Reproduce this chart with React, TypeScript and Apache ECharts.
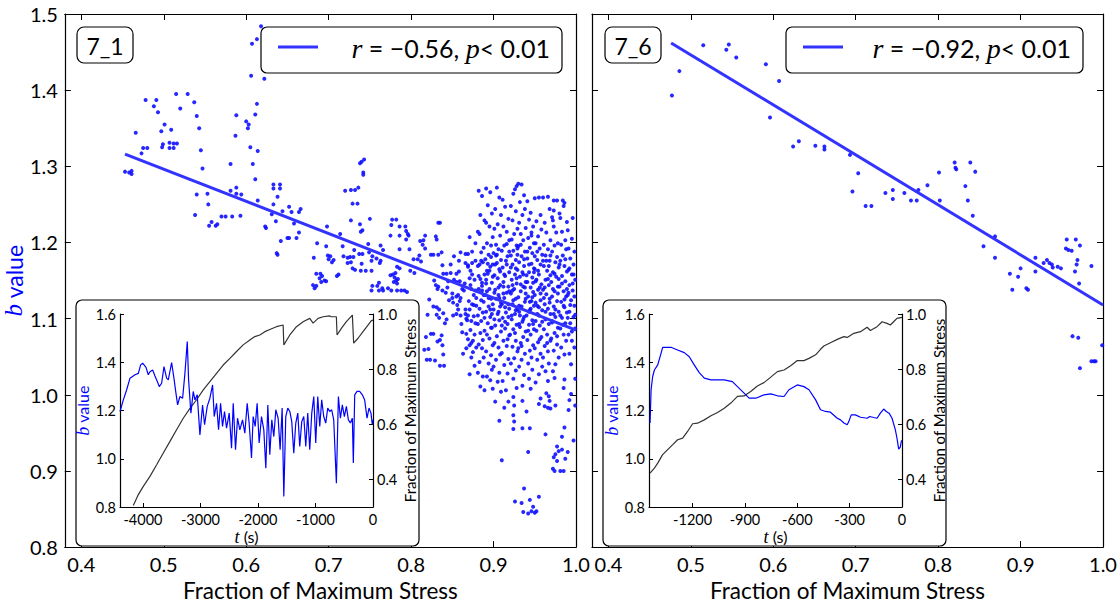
import React, { useEffect, useRef } from 'react';
import * as echarts from 'echarts';

const FONT = 'Lato, "DejaVu Sans", sans-serif';
const SERIF = '"Liberation Serif", "DejaVu Serif", serif';
const BLUE = '#0000ff';

const mainXTicks = [0.4, 0.5, 0.6, 0.7, 0.8, 0.9, 1.0];
const mainYTicks = [0.8, 0.9, 1.0, 1.1, 1.2, 1.3, 1.4, 1.5];
const insetBTicks = [0.8, 1.0, 1.2, 1.4, 1.6];
const insetStressTicks = [0.4, 0.6, 0.8, 1.0];
const inset1TTicks = [-4000, -3000, -2000, -1000, 0];
const inset6TTicks = [-1200, -900, -600, -300, 0];

const panelLabels = ['7_1', '7_6'];
const legendTexts = ['{i|r} = \u22120.56, {i|p}< 0.01', '{i|r} = \u22120.92, {i|p}< 0.01'];

// ---- 7_1 main scatter: sparse part ----
const scatter1Sparse = [
  [.618,1.484],[.613,1.467],[.607,1.461],[.606,1.419],[.622,1.415],
  [.478,1.387],[.491,1.387],[.488,1.379],[.493,1.371],[.515,1.395],[.529,1.395],[.520,1.376],[.537,1.384],[.540,1.366],[.543,1.350],
  [.466,1.344],[.501,1.355],[.497,1.346],[.509,1.348],[.499,1.329],[.498,1.325],[.507,1.331],[.507,1.324],[.512,1.330],[.516,1.330],[.512,1.324],
  [.475,1.324],[.480,1.324],[.473,1.317],[.453,1.293],[.458,1.292],[.461,1.294],[.461,1.290],
  [.545,1.321],[.547,1.297],[.540,1.263],[.553,1.264],[.554,1.250],[.538,1.236],[.558,1.227],[.555,1.222],[.563,1.222],[.565,1.224],
  [.570,1.234],[.575,1.234],[.583,1.234],[.593,1.235],[.581,1.268],[.588,1.272],[.588,1.264],[.594,1.263],[.581,1.303],[.587,1.340],[.588,1.367],
  [.600,1.359],[.603,1.355],[.602,1.350],[.611,1.368],[.613,1.382],[.605,1.325],[.614,1.320],[.608,1.303],[.611,1.283],[.614,1.255],[.623,1.221],[.624,1.219],
  [.633,1.276],[.633,1.271],[.641,1.276],[.641,1.271],[.638,1.260],[.633,1.250],[.644,1.241],[.652,1.247],[.655,1.240],[.636,1.228],[.631,1.237],
  [.642,1.202],[.637,1.186],[.638,1.184],[.650,1.206],[.652,1.206],[.661,1.206],[.664,1.213],[.658,1.225],[.664,1.240],[.666,1.244],
  [.740,1.306],[.743,1.309],[.738,1.304],[.742,1.292],[.742,1.289],
  [.720,1.268],[.727,1.269],[.732,1.269],[.736,1.272],[.729,1.251],[.735,1.251],
  [.727,1.229],[.738,1.224],[.741,1.216],[.739,1.214],[.750,1.231],
  [.698,1.221],[.714,1.211],[.686,1.199],[.697,1.195],[.682,1.180],
  [.699,1.183],[.702,1.182],[.700,1.178],[.704,1.174],[.706,1.177],
  [.717,1.195],[.718,1.182],[.723,1.180],[.726,1.181],[.730,1.181],[.723,1.173],[.727,1.174],
  [.731,1.190],[.737,1.185],[.741,1.185],[.748,1.198],[.712,1.158],[.710,1.156],[.729,1.166],[.732,1.164],[.739,1.163],[.745,1.163],[.740,1.172],[.752,1.163],
  [.763,1.196],[.766,1.190],[.753,1.182],[.752,1.176],[.758,1.179],[.763,1.176],[.762,1.173],[.749,1.187],
  [.685,1.159],[.690,1.159],[.692,1.156],[.689,1.153],[.691,1.148],[.681,1.144],[.685,1.143],[.683,1.140],[.695,1.150],[.697,1.149],
  [.777,1.230],[.782,1.230],[.776,1.223],[.786,1.221],[.775,1.209],[.786,1.209],[.794,1.215],[.796,1.211],[.797,1.209],[.793,1.221],[.794,1.204],[.798,1.191],[.786,1.191],
  [.811,1.202],[.815,1.203],[.817,1.209],[.814,1.197],[.817,1.192],[.824,1.184],[.827,1.184],[.810,1.183],[.808,1.178],[.812,1.175],[.803,1.178],[.799,1.163],[.804,1.160],
  [.783,1.168],[.786,1.166],[.781,1.160],[.778,1.158],[.775,1.157],[.780,1.154],[.782,1.150],[.784,1.152],[.779,1.148],[.783,1.146],
  [.830,1.208],[.831,1.204],[.833,1.226],[.835,1.226],[.837,1.187],[.833,1.184],[.838,1.170],[.839,1.159],[.843,1.159],[.848,1.160],[.855,1.159],[.858,1.162],
  [.866,1.185],[.869,1.185],[.866,1.173],[.869,1.170],[.874,1.173],[.852,1.151],[.855,1.148],
  [.828,1.150],[.830,1.144],[.833,1.142],[.832,1.139],
  [.838,1.137],[.842,1.134],[.844,1.141],[.850,1.133],[.850,1.127],[.846,1.124],[.851,1.121],[.855,1.129],[.860,1.127],[.859,1.123],
  [.822,1.125],[.827,1.116],[.831,1.115],[.834,1.112],[.820,1.105],[.831,1.105],[.834,1.101],[.839,1.107],[.843,1.099],[.841,1.094],
  [.824,1.080],[.827,1.080],[.832,1.070],[.835,1.072],[.837,1.078],[.838,1.065],[.818,1.076],[.821,1.060],[.816,1.059],
  [.819,1.046],[.823,1.046],[.829,1.045],[.835,1.038],[.840,1.038],[.839,1.053],
  [.855,1.106],[.860,1.104],[.866,1.106],[.867,1.100],[.869,1.104],
  [.867,1.080],[.869,1.073],[.871,1.065],[.873,1.068],
  [.761,1.147],[.759,1.143],[.765,1.140],[.766,1.137],[.761,1.137],[.753,1.143],[.752,1.137],
  [.772,1.140],[.776,1.137],[.783,1.137],[.788,1.137],[.792,1.137],[.795,1.135],
  [.852,1.182],[.848,1.171],[.845,1.149],[.862,1.139],[.857,1.112],[.851,1.104]
];

// ---- 7_1 main scatter: cluster near failure, read strip by strip ----
const scatter1ClusterA = [
  [.856,1.118],[.861,1.093],[.858,1.176],[.864,1.137],[.867,1.061],[.859,1.149],[.866,1.112],[.862,1.082],[.869,1.168],[.857,1.131],[.868,1.098],[.863,1.054],[.860,1.187],[.865,1.146],[.870,1.123],
  [.871,1.207],[.874,1.188],[.872,1.163],[.877,1.151],[.873,1.139],[.879,1.127],[.871,1.112],[.876,1.103],[.878,1.094],[.872,1.085],[.875,1.071],[.879,1.062],[.873,1.049],[.877,1.038],[.871,1.027],
  [.878,1.176],[.874,1.158],[.876,1.131],[.879,1.117],[.873,1.097],[.877,1.079],[.875,1.056],[.872,1.144],[.878,1.199],[.874,1.119],
  [.882,1.268],[.886,1.261],[.884,1.236],[.889,1.229],[.881,1.214],[.883,1.211],[.888,1.193],[.885,1.176],[.887,1.174],[.881,1.169],[.889,1.158],[.884,1.152],[.882,1.139],[.886,1.137],[.888,1.131],
  [.883,1.113],[.887,1.108],[.881,1.104],[.885,1.097],[.889,1.084],[.884,1.081],[.882,1.066],[.886,1.061],[.888,1.049],[.883,1.043],[.881,1.029],[.887,1.024],[.884,1.011],[.889,1.006],[.882,1.156],
  [.886,1.147],[.888,1.122],[.885,1.187],[.881,1.093],[.887,1.072],
  [.891,1.271],[.896,1.266],[.893,1.249],[.898,1.238],[.891,1.226],[.895,1.221],[.899,1.207],[.892,1.199],[.897,1.196],[.894,1.184],[.890,1.178],[.899,1.171],[.896,1.168],[.893,1.159],[.891,1.151],
  [.898,1.147],[.895,1.139],[.892,1.136],[.897,1.126],[.899,1.119],[.894,1.116],[.891,1.109],[.896,1.102],[.893,1.094],[.898,1.088],[.892,1.079],[.895,1.074],[.899,1.065],[.891,1.057],[.897,1.052],
  [.894,1.041],[.898,1.033],[.892,1.024],[.896,1.019],[.899,1.008],[.893,1.172],[.897,1.181],[.890,1.131],[.895,1.163],[.898,1.106],
  [.904,1.272],[.907,1.259],[.902,1.244],[.909,1.236],[.905,1.224],[.901,1.218],[.908,1.209],[.903,1.197],[.906,1.191],[.900,1.186],[.909,1.177],[.904,1.173],[.907,1.165],[.901,1.157],[.905,1.153],
  [.908,1.144],[.902,1.138],[.906,1.131],[.903,1.126],[.909,1.121],[.900,1.112],[.905,1.106],[.907,1.098],[.902,1.091],[.909,1.083],[.904,1.077],[.901,1.068],[.906,1.062],[.908,1.053],[.903,1.046],
  [.900,1.037],[.907,1.029],[.905,1.017],[.909,1.004],[.902,0.991],[.907,0.966],[.904,1.184],[.906,1.141],[.901,1.099],[.908,1.116],
  [.911,1.256],[.914,1.247],[.918,1.231],[.912,1.221],[.916,1.214],[.919,1.203],[.913,1.196],[.910,1.189],[.917,1.182],[.915,1.176],[.911,1.167],[.919,1.161],[.914,1.156],[.912,1.148],[.918,1.142],
  [.916,1.134],[.913,1.127],[.910,1.119],[.919,1.113],[.915,1.108],[.911,1.101],[.917,1.093],[.914,1.087],[.919,1.078],[.912,1.071],[.916,1.064],[.910,1.055],[.918,1.047],[.913,1.039],[.917,1.028],
  [.911,1.018],[.915,1.006],[.913,0.983],[.910,0.914],[.918,0.991],[.916,1.171],[.912,1.133],[.918,1.119],[.914,1.096],[.919,1.188]
];

const scatter1ClusterB = [
  [.926,1.270],[.924,1.264],[.928,1.274],[.921,1.248],[.927,1.241],[.923,1.229],[.929,1.218],[.925,1.211],[.922,1.204],[.928,1.196],[.924,1.189],[.921,1.183],[.927,1.177],[.923,1.171],[.929,1.164],
  [.926,1.158],[.922,1.151],[.928,1.146],[.925,1.139],[.921,1.133],[.927,1.126],[.923,1.119],[.929,1.113],[.926,1.106],[.922,1.099],[.928,1.092],[.924,1.086],[.920,1.079],[.927,1.071],[.923,1.063],
  [.929,1.057],[.925,1.048],[.921,1.041],[.927,1.032],[.924,1.021],[.928,1.009],[.924,0.997],[.925,0.986],[.924,0.973],[.925,0.965],[.924,0.955],[.926,0.860],[.929,1.184],[.923,1.144],[.927,1.111],
  [.930,1.277],[.934,1.276],[.937,1.262],[.932,1.253],[.938,1.244],[.935,1.236],[.931,1.226],[.939,1.219],[.933,1.211],[.936,1.203],[.930,1.195],[.938,1.188],[.934,1.182],[.931,1.174],[.937,1.169],
  [.935,1.161],[.932,1.155],[.939,1.148],[.936,1.142],[.933,1.136],[.930,1.128],[.938,1.122],[.934,1.116],[.931,1.109],[.937,1.102],[.935,1.096],[.932,1.089],[.939,1.083],[.936,1.076],[.933,1.068],
  [.930,1.061],[.938,1.054],[.934,1.046],[.931,1.037],[.937,1.026],[.935,1.012],[.935,0.992],[.935,0.956],[.937,0.877],[.934,0.858],[.936,0.846],[.933,1.197],[.939,1.133],[.931,1.093],[.936,1.158],
  [.941,1.254],[.945,1.239],[.943,1.230],[.948,1.221],[.946,1.213],[.942,1.206],[.949,1.199],[.944,1.193],[.947,1.186],[.941,1.179],[.946,1.172],[.949,1.166],[.943,1.161],[.947,1.154],[.941,1.148],
  [.945,1.141],[.948,1.135],[.942,1.129],[.946,1.123],[.949,1.117],[.944,1.111],[.940,1.104],[.947,1.098],[.943,1.092],[.949,1.086],[.945,1.079],[.941,1.072],[.948,1.065],[.944,1.058],[.946,1.049],
  [.942,1.041],[.947,1.033],[.943,1.021],[.945,1.008],[.940,0.978],[.944,0.956],[.942,0.925],[.944,0.862],[.948,0.853],[.942,0.844],[.946,0.847],[.941,1.188],[.948,1.147],[.943,1.109],[.946,1.209],
  [.950,1.258],[.955,1.259],[.957,1.236],[.952,1.228],[.958,1.217],[.954,1.208],[.951,1.199],[.956,1.192],[.959,1.184],[.953,1.177],[.957,1.171],[.950,1.165],[.955,1.158],[.952,1.151],[.958,1.145],
  [.954,1.138],[.950,1.131],[.957,1.124],[.953,1.117],[.959,1.111],[.955,1.104],[.951,1.097],[.956,1.091],[.952,1.084],[.958,1.076],[.954,1.069],[.950,1.061],[.957,1.054],[.953,1.046],[.959,1.037],
  [.955,1.027],[.951,1.016],[.957,0.995],[.955,0.988],[.950,0.845],[.952,0.847],[.955,0.866],[.953,1.188],[.956,1.141],[.951,1.121],
  [.960,1.259],[.966,1.260],[.968,1.244],[.962,1.226],[.964,1.213],[.969,1.203],[.961,1.197],[.966,1.191],[.963,1.183],[.968,1.176],[.961,1.169],[.965,1.163],[.969,1.157],[.963,1.151],[.967,1.144],
  [.960,1.138],[.964,1.132],[.968,1.126],[.962,1.119],[.966,1.113],[.969,1.106],[.963,1.099],[.967,1.093],[.961,1.086],[.965,1.079],[.969,1.071],[.962,1.064],[.966,1.057],[.960,1.049],[.967,1.041],
  [.963,1.031],[.966,1.018],[.964,1.002],[.967,0.998],[.968,0.992],[.962,0.985],[.966,0.983],[.969,0.982],[.963,0.948],[.964,1.176]
];

const scatter1ClusterC = [
  [.973,1.255],[.977,1.255],[.971,1.233],[.973,1.242],[.972,1.229],[.973,1.221],[.976,1.213],[.978,1.199],[.974,1.196],[.971,1.188],[.977,1.181],[.975,1.174],[.979,1.167],[.972,1.161],[.976,1.155],
  [.970,1.148],[.978,1.142],[.974,1.136],[.971,1.129],[.977,1.123],[.973,1.116],[.979,1.109],[.975,1.102],[.971,1.095],[.978,1.088],[.974,1.081],[.970,1.074],[.977,1.066],[.973,1.058],[.979,1.049],
  [.975,1.040],[.972,1.031],[.974,1.022],[.975,0.986],[.977,0.932],[.979,0.926],[.973,0.918],[.975,0.922],[.977,0.913],[.972,0.903],[.974,0.900],
  [.980,1.238],[.984,1.255],[.986,1.252],[.985,1.248],[.981,1.232],[.989,1.227],[.983,1.214],[.987,1.203],[.982,1.197],[.988,1.191],[.984,1.183],[.981,1.176],[.986,1.169],[.989,1.162],[.983,1.156],
  [.987,1.149],[.980,1.142],[.985,1.136],[.988,1.129],[.982,1.122],[.986,1.115],[.989,1.108],[.983,1.101],[.987,1.094],[.981,1.087],[.985,1.079],[.988,1.071],[.982,1.062],[.986,1.053],[.986,1.020],
  [.985,1.009],[.983,0.945],[.986,0.957],[.981,0.900],[.985,0.900],[.987,0.916],[.983,0.928],
  [.990,1.216],[.996,1.232],[.995,1.205],[.991,1.192],[.998,1.188],[.993,1.179],[.997,1.171],[.991,1.164],[.995,1.158],[.999,1.151],[.992,1.144],[.996,1.137],[.990,1.131],[.994,1.124],[.998,1.117],
  [.992,1.109],[.997,1.102],[.993,1.094],[.999,1.087],[.991,1.079],[.995,1.071],[.998,1.062],[.992,1.054],[.994,1.040],[.999,1.021],[.994,1.001],[.992,0.993],[.991,0.980],[.999,0.986],[.990,0.925],[.997,0.940]
];

const scatter1Dense = [
  [.871,1.153],[.876,1.118],[.883,1.171],[.886,1.143],[.889,1.101],[.892,1.163],[.894,1.127],[.897,1.088],[.899,1.155],[.901,1.134],[.903,1.183],[.906,1.109],[.908,1.162],[.910,1.091],[.912,1.142],
  [.914,1.115],[.916,1.198],[.917,1.073],[.919,1.136],[.921,1.167],[.922,1.104],[.924,1.124],[.926,1.081],[.928,1.153],[.929,1.192],[.931,1.117],[.933,1.145],[.934,1.064],[.936,1.099],[.937,1.178],
  [.939,1.126],[.940,1.157],[.942,1.084],[.943,1.171],[.945,1.113],[.947,1.128],[.948,1.093],[.950,1.182],[.951,1.149],[.953,1.106],[.954,1.163],[.956,1.073],[.957,1.133],[.959,1.096],[.960,1.176],
  [.962,1.141],[.963,1.109],[.965,1.068],[.966,1.152],[.968,1.121],[.969,1.183],[.971,1.097],[.972,1.139],[.974,1.159],[.975,1.112],[.977,1.077],[.978,1.133],[.980,1.171],[.981,1.104],[.983,1.146],
  [.984,1.092],[.986,1.125],[.987,1.178],[.989,1.139],[.990,1.101],[.992,1.166],[.993,1.118],[.995,1.083],[.996,1.146],[.998,1.129],[.999,1.105],
  [.878,1.137],[.885,1.124],[.891,1.146],[.896,1.112],[.902,1.171],[.907,1.127],[.913,1.158],[.918,1.102],[.923,1.137],[.927,1.166],[.932,1.104],[.938,1.141],[.944,1.122],[.949,1.161],[.955,1.115],
  [.961,1.127],[.967,1.169],[.973,1.106],[.979,1.152],[.985,1.117],[.991,1.134],[.997,1.158]
];

// ---- 7_6 main scatter ----
const scatter6 = [
  [.477,1.393],[.486,1.425],[.515,1.459],[.543,1.453],[.546,1.460],[.555,1.443],[.591,1.434],[.607,1.412],[.596,1.364],
  [.624,1.326],[.631,1.333],[.651,1.327],[.662,1.326],[.662,1.322],[.693,1.315],[.703,1.291],[.696,1.267],[.712,1.248],[.719,1.248],
  [.736,1.265],[.745,1.269],[.745,1.257],[.759,1.265],[.767,1.255],[.774,1.255],[.776,1.269],[.787,1.275],[.801,1.292],[.802,1.255],
  [.820,1.305],[.821,1.298],[.822,1.296],[.839,1.305],[.845,1.293],[.833,1.274],[.836,1.255],[.842,1.235],[.855,1.195],[.869,1.208],
  [.869,1.180],[.887,1.159],[.890,1.138],[.897,1.155],[.900,1.166],[.907,1.140],[.909,1.138],[.918,1.180],[.918,1.162],[.928,1.173],
  [.932,1.177],[.935,1.173],[.938,1.171],[.939,1.167],[.945,1.168],[.949,1.166],[.956,1.204],[.967,1.204],[.955,1.192],[.958,1.190],
  [.962,1.189],[.972,1.196],[.969,1.177],[.968,1.171],[.966,1.162],[.971,1.146],[.986,1.169],
  [.963,1.077],[.970,1.075],[.972,1.035],[.986,1.044],[.989,1.044],[.991,1.044],[.999,1.065]
];

// linear fits (end points)
const fit1 = [[0.453, 1.316], [1.0, 1.085]];
const fit6 = [[0.476, 1.462], [1.0, 1.118]];

// ---- insets: [t (s), value] ----
const inset1B = [
  [-4400,1.196],[-4342,1.244],[-4284,1.286],[-4226,1.334],[-4139,1.348],[-4081,1.354],[-4041,1.389],[-4006,1.396],[-3948,1.379],
  [-3908,1.348],[-3879,1.361],[-3832,1.368],[-3792,1.343],[-3751,1.320],[-3717,1.299],[-3676,1.313],[-3635,1.382],[-3589,1.334],
  [-3560,1.327],[-3502,1.399],[-3462,1.334],[-3427,1.272],[-3398,1.223],[-3358,1.258],[-3311,1.251],[-3271,1.354],[-3230,1.486],
  [-3207,1.327],[-3167,1.189],[-3126,1.279],[-3097,1.244],[-3057,1.265],[-3010,1.099],[-2964,1.223],[-2929,1.141],[-2883,1.217],
  [-2837,1.251],[-2790,1.306],[-2761,1.175],[-2721,1.230],[-2686,1.120],[-2651,1.230],[-2617,1.134],[-2582,1.196],[-2547,1.127],
  [-2501,1.189],[-2460,1.044],[-2431,1.230],[-2391,1.037],[-2356,1.168],[-2316,1.120],[-2269,1.161],[-2229,1.106],[-2188,1.230],
  [-2154,1.148],[-2113,1.003],[-2084,1.175],[-2049,1.134],[-2015,1.230],[-1980,1.065],[-1939,1.175],[-1899,1.120],[-1864,0.961],
  [-1829,1.223],[-1795,1.017],[-1760,1.161],[-1725,1.092],[-1690,1.203],[-1650,1.168],[-1615,1.037],[-1580,1.210],[-1551,0.844],
  [-1517,1.175],[-1482,1.210],[-1447,1.196],[-1413,1.154],[-1378,1.023],[-1343,1.148],[-1308,1.189],[-1274,1.051],[-1239,1.154],
  [-1204,1.175],[-1169,1.051],[-1135,1.189],[-1100,1.037],[-1065,1.189],[-1030,1.258],[-996,1.065],[-961,1.258],[-926,1.134],
  [-892,1.244],[-857,1.175],[-822,1.148],[-787,1.210],[-753,1.196],[-718,1.203],[-683,1.161],[-637,0.899],[-602,1.258],[-567,1.168],
  [-533,1.223],[-498,1.175],[-463,1.217],[-428,1.161],[-394,1.148],[-359,1.168],[-342,0.982],[-318,1.265],[-278,1.279],[-232,1.279],
  [-185,1.265],[-145,1.244],[-104,1.168],[-69,1.210],[-35,1.189],[-12,1.141],[0,1.161]
];
const inset1S = [
  [-4168,0.305],[-4081,0.345],[-3995,0.375],[-3879,0.411],[-3763,0.453],[-3647,0.496],[-3531,0.538],[-3416,0.580],[-3300,0.622],
  [-3184,0.658],[-3068,0.689],[-2952,0.725],[-2837,0.755],[-2721,0.785],[-2605,0.815],[-2489,0.839],[-2373,0.864],[-2258,0.888],
  [-2142,0.906],[-2055,0.918],[-1968,0.924],[-1881,0.936],[-1795,0.944],[-1679,0.954],[-1563,0.960],[-1551,0.888],[-1447,0.924],
  [-1331,0.954],[-1216,0.972],[-1100,0.984],[-1042,0.967],[-955,0.984],[-868,0.990],[-753,0.993],[-724,0.990],[-637,0.990],
  [-625,0.924],[-550,0.948],[-463,0.972],[-359,0.996],[-336,0.894],[-260,0.912],[-174,0.936],[-87,0.960],[-29,0.976],[0,0.978]
];
const inset6B = [
  [-1444,1.148],[-1438,1.286],[-1429,1.341],[-1419,1.368],[-1400,1.389],[-1381,1.437],[-1372,1.462],[-1324,1.462],[-1286,1.451],
  [-1248,1.440],[-1219,1.423],[-1191,1.389],[-1162,1.357],[-1133,1.334],[-1095,1.327],[-1019,1.327],[-972,1.320],[-943,1.299],
  [-905,1.272],[-876,1.251],[-838,1.251],[-791,1.265],[-752,1.269],[-714,1.261],[-676,1.258],[-648,1.286],[-600,1.306],[-562,1.299],
  [-533,1.286],[-495,1.244],[-467,1.203],[-438,1.196],[-410,1.193],[-371,1.168],[-352,1.161],[-333,1.148],[-314,1.141],[-305,1.154],
  [-291,1.182],[-267,1.182],[-238,1.172],[-200,1.168],[-185,1.175],[-162,1.171],[-143,1.168],[-124,1.189],[-105,1.206],[-90,1.196],
  [-74,1.189],[-57,1.168],[-38,1.120],[-29,1.086],[-19,1.040],[-10,1.048],[-4,1.072],[0,1.076]
];
const inset6S = [
  [-1444,0.423],[-1419,0.441],[-1400,0.459],[-1372,0.490],[-1343,0.508],[-1314,0.526],[-1286,0.544],[-1257,0.550],[-1229,0.574],
  [-1200,0.602],[-1172,0.604],[-1133,0.616],[-1095,0.631],[-1057,0.643],[-1019,0.658],[-981,0.677],[-943,0.701],[-905,0.703],
  [-867,0.719],[-829,0.739],[-791,0.751],[-752,0.771],[-714,0.791],[-676,0.797],[-638,0.812],[-600,0.831],[-562,0.831],[-533,0.839],
  [-495,0.852],[-467,0.872],[-448,0.884],[-410,0.896],[-371,0.908],[-333,0.918],[-314,0.915],[-276,0.930],[-238,0.936],[-200,0.952],
  [-181,0.940],[-143,0.954],[-114,0.972],[-86,0.966],[-67,0.960],[-48,0.972],[-29,0.984],[0,0.988]
];

const AX = '#000';

function mainX(grid: number, pos: 'bottom' | 'top', labels: boolean) {
  return {
    type: 'value', gridIndex: grid, position: pos, min: 0.38, max: 1.0,
    axisLine: { show: true, lineStyle: { color: AX, width: 1.2 } },
    axisTick: { show: true, inside: true, length: 6, customValues: mainXTicks, lineStyle: { color: AX } },
    axisLabel: { show: labels, customValues: mainXTicks, formatter: (v: number) => v.toFixed(1), fontSize: 20, fontFamily: FONT, color: '#000', margin: 7 },
    splitLine: { show: false },
    name: labels ? 'Fraction of Maximum Stress' : '', nameLocation: 'middle', nameGap: 22,
    nameTextStyle: { fontSize: 22.5, fontFamily: FONT, color: '#000' },
  };
}
function mainY(grid: number, pos: 'left' | 'right', labels: boolean, title: boolean) {
  return {
    type: 'value', gridIndex: grid, position: pos, min: 0.8, max: 1.5,
    axisLine: { show: true, lineStyle: { color: AX, width: 1.2 } },
    axisTick: { show: true, inside: true, length: 6, customValues: mainYTicks, lineStyle: { color: AX } },
    axisLabel: { show: labels, customValues: mainYTicks, formatter: (v: number) => v.toFixed(1), fontSize: 20, fontFamily: FONT, color: '#000', margin: 7 },
    splitLine: { show: false },
    name: title ? '{i|b} value' : '', nameLocation: 'middle', nameGap: 31,
    nameTextStyle: { fontSize: 23, fontFamily: FONT, color: BLUE, rich: { i: { fontStyle: 'italic', fontFamily: SERIF, fontSize: 25, color: BLUE } } },
  };
}
function insetX(grid: number, min: number, ticks: number[]) {
  return {
    type: 'value', gridIndex: grid, position: 'bottom', min, max: 0, z: 60,
    axisLine: { show: true, onZero: false, lineStyle: { color: AX, width: 1.2 } },
    axisTick: { show: true, inside: true, length: 4, customValues: ticks, lineStyle: { color: AX } },
    axisLabel: { customValues: ticks, formatter: (v: number) => String(Math.round(v)), fontSize: 14.5, fontFamily: FONT, color: '#000', margin: 5 },
    splitLine: { show: false },
    name: '{i|t} (s)', nameLocation: 'middle', nameGap: 19,
    nameTextStyle: { fontSize: 16, fontFamily: FONT, color: '#000', rich: { i: { fontStyle: 'italic', fontFamily: SERIF, fontSize: 18 } } },
  };
}
function insetYB(grid: number) {
  return {
    type: 'value', gridIndex: grid, position: 'left', min: 0.8, max: 1.6, z: 60,
    axisLine: { show: true, onZero: false, lineStyle: { color: AX, width: 1.2 } },
    axisTick: { show: true, inside: true, length: 4, customValues: insetBTicks, lineStyle: { color: AX } },
    axisLabel: { customValues: insetBTicks, formatter: (v: number) => v.toFixed(1), fontSize: 14.5, fontFamily: FONT, color: '#000', margin: 4 },
    splitLine: { show: false },
    name: '{i|b} value', nameLocation: 'middle', nameGap: 26,
    nameTextStyle: { fontSize: 16, fontFamily: FONT, color: BLUE, rich: { i: { fontStyle: 'italic', fontFamily: SERIF, fontSize: 18, color: BLUE } } },
  };
}
function insetYS(grid: number) {
  return {
    type: 'value', gridIndex: grid, position: 'right', min: 0.3, max: 1.0, z: 60,
    axisLine: { show: true, onZero: false, lineStyle: { color: AX, width: 1.2 } },
    axisTick: { show: true, inside: true, length: 4, customValues: insetStressTicks, lineStyle: { color: AX } },
    axisLabel: { customValues: insetStressTicks, formatter: (v: number) => v.toFixed(1), fontSize: 14.5, fontFamily: FONT, color: '#000', margin: 4 },
    splitLine: { show: false },
    name: 'Fraction of Maximum Stress', nameLocation: 'middle', nameGap: 29, nameRotate: 90,
    nameTextStyle: { fontSize: 15, fontFamily: FONT, color: '#000' },
  };
}

function scatterSeries(data: number[][], xi: number, yi: number) {
  return {
    type: 'scatter', xAxisIndex: xi, yAxisIndex: yi, data, symbolSize: 4, z: 2,
    itemStyle: { color: '#1010ff', opacity: 0.9 }, silent: true,
  };
}
function lineSeries(data: number[][], xi: number, yi: number, color: string, width: number, z: number) {
  return {
    type: 'line', xAxisIndex: xi, yAxisIndex: yi, data, showSymbol: false, symbol: 'none', z,
    lineStyle: { color, width }, silent: true,
  };
}

function labelBox(x: number, text: string) {
  return {
    type: 'group', z: 20, children: [
      { type: 'rect', z: 20, shape: { x, y: 27, width: 56, height: 36, r: 7 }, style: { fill: '#fff', stroke: '#000', lineWidth: 1.2 } },
      { type: 'text', z: 21, style: { x: x + 28, y: 46, text, align: 'center', verticalAlign: 'middle', fontSize: 23, fontFamily: FONT, fill: '#000' } },
    ],
  };
}
function legendBox(x: number, w: number, text: string) {
  return {
    type: 'group', z: 20, children: [
      { type: 'rect', z: 20, shape: { x, y: 27, width: w, height: 46, r: 6 }, style: { fill: '#fff', stroke: '#000', lineWidth: 1.2 } },
      { type: 'line', z: 21, shape: { x1: x + 17, y1: 47, x2: x + 57, y2: 47 }, style: { stroke: '#3333ff', lineWidth: 3 } },
      { type: 'text', z: 21, style: { x: x + w - 12, y: 48, text, align: 'right', verticalAlign: 'middle', fontSize: 25, fontFamily: FONT, fill: '#000',
        rich: { i: { fontStyle: 'italic', fontFamily: SERIF, fontSize: 28, fill: '#000' } } } },
    ],
  };
}
function insetBox(x: number) {
  return { type: 'rect', z: 50, shape: { x, y: 300, width: 343, height: 246, r: 6 }, style: { fill: '#fff', stroke: '#000', lineWidth: 1.2 } };
}

export default function App() {
  const ref = useRef<HTMLDivElement>(null);
  useEffect(() => {
    document.body.style.margin = '0';
    const chart = echarts.init(ref.current!, undefined, { renderer: 'svg' });
    chart.setOption({
      animation: false,
      backgroundColor: '#fff',
      textStyle: { fontFamily: FONT },
      grid: [
        { left: 64, top: 14, width: 512, height: 541 },
        { left: 592, top: 14, width: 511, height: 541 },
        { left: 120, top: 314, width: 253, height: 193, z: 60 },
        { left: 649, top: 314, width: 253, height: 193, z: 60 },
      ],
      xAxis: [
        mainX(0, 'bottom', true), mainX(0, 'top', false),
        mainX(1, 'bottom', true), mainX(1, 'top', false),
        insetX(2, -4400, inset1TTicks), insetX(3, -1450, inset6TTicks),
      ],
      yAxis: [
        mainY(0, 'left', true, true), mainY(0, 'right', false, false),
        mainY(1, 'left', false, false), mainY(1, 'right', false, false),
        insetYB(2), insetYS(2), insetYB(3), insetYS(3),
      ],
      series: [
        scatterSeries(scatter1Sparse, 0, 0),
        scatterSeries(scatter1ClusterA, 0, 0),
        scatterSeries(scatter1ClusterB, 0, 0),
        scatterSeries(scatter1ClusterC, 0, 0),
        scatterSeries(scatter1Dense, 0, 0),
        lineSeries(fit1, 0, 0, '#3333ff', 3, 3),
        scatterSeries(scatter6, 2, 2),
        lineSeries(fit6, 2, 2, '#3333ff', 3, 3),
        lineSeries(inset1S, 4, 5, '#333333', 1.2, 61),
        lineSeries(inset1B, 4, 4, BLUE, 1.2, 62),
        lineSeries(inset6S, 5, 7, '#333333', 1.2, 61),
        lineSeries(inset6B, 5, 6, BLUE, 1.2, 62),
      ],
      graphic: [
        insetBox(76), insetBox(603),
        labelBox(77, panelLabels[0]), labelBox(605, panelLabels[1]),
        legendBox(261, 301, legendTexts[0]), legendBox(786, 297, legendTexts[1]),
      ],
    });
    return () => chart.dispose();
  }, []);
  return <div ref={ref} style={{ width: 1120, height: 607 }} />;
}
